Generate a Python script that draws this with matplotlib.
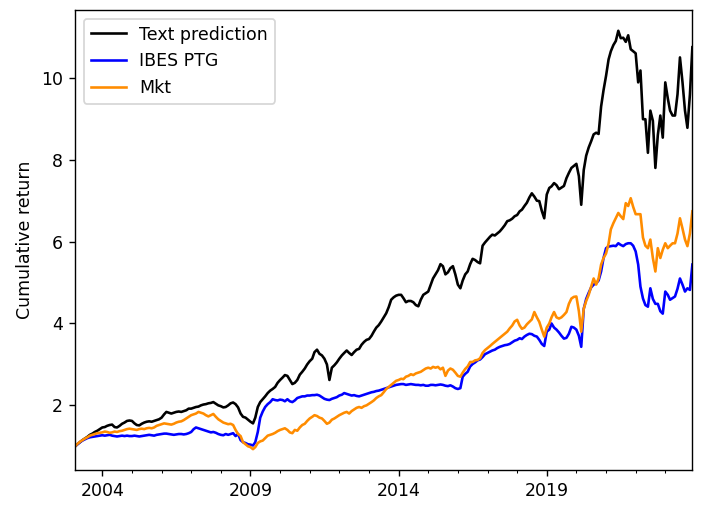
import numpy as np
import pandas as pd
import matplotlib
matplotlib.use('Agg')
import matplotlib.pyplot as plt
import matplotlib.dates as mdates

# monthly dates, Feb 2003 - Dec 2023
dates = pd.date_range('2003-02-01', '2023-12-01', freq='MS')

# cumulative returns, one row per year (2003 starts in Feb)
text_pred = [
    1.00, 1.05, 1.10, 1.15, 1.19, 1.23, 1.28, 1.31, 1.35, 1.38, 1.42,
    1.46, 1.47, 1.50, 1.52, 1.53, 1.47, 1.46, 1.50, 1.55, 1.58, 1.62, 1.63,
    1.62, 1.56, 1.52, 1.51, 1.55, 1.58, 1.60, 1.61, 1.60, 1.62, 1.64, 1.66,
    1.70, 1.78, 1.84, 1.82, 1.80, 1.82, 1.84, 1.85, 1.84, 1.86, 1.88, 1.92,
    1.92, 1.94, 1.96, 1.97, 2.00, 2.02, 2.03, 2.05, 2.06, 2.08, 2.04, 2.00,
    1.98, 1.95, 1.96, 2.00, 2.05, 2.07, 2.03, 1.95, 1.80, 1.72, 1.70, 1.65,
    1.60, 1.56, 1.70, 1.96, 2.08, 2.15, 2.22, 2.30, 2.36, 2.40, 2.45, 2.55,
    2.62, 2.68, 2.74, 2.72, 2.62, 2.52, 2.55, 2.62, 2.75, 2.82, 2.90, 3.00,
    3.08, 3.14, 3.30, 3.36, 3.26, 3.22, 3.14, 3.00, 2.62, 2.92, 2.98, 3.05,
    3.14, 3.22, 3.28, 3.34, 3.28, 3.23, 3.30, 3.36, 3.38, 3.48, 3.55, 3.60,
    3.62, 3.70, 3.80, 3.90, 3.96, 4.05, 4.15, 4.25, 4.40, 4.58, 4.64, 4.68,
    4.70, 4.70, 4.62, 4.52, 4.55, 4.55, 4.52, 4.45, 4.42, 4.58, 4.70, 4.74,
    4.78, 4.95, 5.10, 5.20, 5.30, 5.45, 5.40, 5.20, 5.25, 5.35, 5.40, 5.20,
    4.95, 4.86, 5.05, 5.20, 5.27, 5.45, 5.58, 5.55, 5.50, 5.47, 5.90, 5.98,
    6.05, 6.12, 6.17, 6.15, 6.20, 6.25, 6.32, 6.40, 6.50, 6.52, 6.56, 6.62,
    6.65, 6.74, 6.78, 6.87, 6.95, 7.08, 7.18, 7.10, 7.00, 6.99, 6.75, 6.57,
    7.15, 7.31, 7.35, 7.43, 7.38, 7.28, 7.32, 7.36, 7.55, 7.68, 7.80, 7.85,
    7.90, 7.60, 6.90, 7.75, 8.10, 8.30, 8.45, 8.62, 8.66, 8.63, 9.30, 9.70,
    10.05, 10.45, 10.65, 10.80, 10.90, 11.15, 10.97, 10.98, 10.88, 11.04, 10.70, 10.65,
    10.60, 9.89, 10.18, 8.99, 8.99, 8.17, 9.20, 8.95, 7.80, 8.60, 9.08, 8.54,
    9.89, 9.50, 9.20, 9.08, 9.08, 9.60, 10.50, 9.90, 9.20, 8.78, 9.60, 10.75,
]

ibes_ptg = [
    1.00, 1.05, 1.10, 1.14, 1.17, 1.20, 1.22, 1.23, 1.24, 1.25, 1.26,
    1.27, 1.26, 1.27, 1.28, 1.26, 1.25, 1.24, 1.25, 1.26, 1.25, 1.26, 1.25,
    1.25, 1.26, 1.25, 1.24, 1.25, 1.26, 1.27, 1.28, 1.27, 1.26, 1.28, 1.29,
    1.30, 1.31, 1.31, 1.30, 1.29, 1.28, 1.29, 1.30, 1.30, 1.29, 1.30, 1.32,
    1.35, 1.42, 1.46, 1.44, 1.42, 1.40, 1.38, 1.36, 1.34, 1.35, 1.33, 1.30,
    1.28, 1.27, 1.30, 1.28, 1.30, 1.32, 1.25, 1.30, 1.15, 1.10, 1.08, 1.05,
    1.04, 1.02, 1.10, 1.35, 1.70, 1.85, 1.96, 2.03, 2.08, 2.15, 2.13, 2.12,
    2.14, 2.13, 2.10, 2.15, 2.10, 2.08, 2.12, 2.18, 2.20, 2.22, 2.22, 2.24,
    2.24, 2.25, 2.25, 2.26, 2.24, 2.20, 2.16, 2.14, 2.13, 2.16, 2.18, 2.20,
    2.24, 2.26, 2.30, 2.28, 2.26, 2.24, 2.25, 2.23, 2.22, 2.24, 2.26, 2.28,
    2.30, 2.32, 2.33, 2.35, 2.36, 2.38, 2.40, 2.42, 2.44, 2.46, 2.48, 2.50,
    2.51, 2.52, 2.52, 2.50, 2.51, 2.52, 2.51, 2.50, 2.50, 2.49, 2.50, 2.48,
    2.48, 2.50, 2.50, 2.49, 2.50, 2.51, 2.50, 2.48, 2.47, 2.49, 2.46, 2.42,
    2.40, 2.42, 2.70, 2.77, 2.82, 2.95, 3.01, 3.05, 3.10, 3.12, 3.18, 3.25,
    3.28, 3.31, 3.34, 3.36, 3.40, 3.43, 3.45, 3.47, 3.48, 3.50, 3.54, 3.58,
    3.60, 3.64, 3.62, 3.68, 3.72, 3.75, 3.74, 3.70, 3.68, 3.60, 3.50, 3.45,
    3.80, 3.85, 4.00, 3.90, 3.85, 3.78, 3.70, 3.63, 3.65, 3.75, 3.92, 3.90,
    3.85, 3.70, 3.43, 4.36, 4.60, 4.75, 4.88, 4.95, 4.98, 5.05, 5.27, 5.60,
    5.84, 5.88, 5.89, 5.90, 5.89, 5.96, 5.92, 5.89, 5.94, 5.96, 5.96, 5.90,
    5.76, 5.44, 4.90, 4.61, 4.45, 4.41, 4.86, 4.60, 4.48, 4.48, 4.30, 4.24,
    4.78, 4.70, 4.58, 4.62, 4.66, 4.85, 5.10, 4.95, 4.78, 4.86, 4.82, 5.44,
]

mkt = [
    1.00, 1.06, 1.11, 1.15, 1.19, 1.22, 1.26, 1.28, 1.30, 1.32, 1.33,
    1.34, 1.36, 1.35, 1.33, 1.34, 1.36, 1.35, 1.37, 1.38, 1.40, 1.42, 1.43,
    1.42, 1.41, 1.40, 1.42, 1.43, 1.42, 1.44, 1.45, 1.44, 1.46, 1.50, 1.52,
    1.54, 1.56, 1.55, 1.54, 1.53, 1.55, 1.58, 1.60, 1.61, 1.64, 1.68, 1.72,
    1.76, 1.78, 1.80, 1.84, 1.82, 1.80, 1.76, 1.73, 1.76, 1.79, 1.72, 1.66,
    1.62, 1.58, 1.56, 1.54, 1.55, 1.52, 1.40, 1.30, 1.25, 1.10, 1.05, 1.00,
    0.98, 0.93, 0.98, 1.08, 1.12, 1.14, 1.20, 1.26, 1.28, 1.30, 1.33, 1.37,
    1.40, 1.42, 1.44, 1.40, 1.34, 1.32, 1.40, 1.38, 1.46, 1.52, 1.55, 1.62,
    1.68, 1.72, 1.76, 1.74, 1.70, 1.68, 1.62, 1.55, 1.58, 1.65, 1.68, 1.72,
    1.76, 1.79, 1.82, 1.84, 1.80, 1.86, 1.90, 1.94, 1.96, 1.94, 1.98, 2.00,
    2.04, 2.08, 2.12, 2.18, 2.22, 2.25, 2.32, 2.40, 2.45, 2.50, 2.55, 2.60,
    2.62, 2.65, 2.64, 2.70, 2.72, 2.76, 2.74, 2.78, 2.80, 2.82, 2.86, 2.90,
    2.92, 2.90, 2.94, 2.92, 2.94, 2.88, 2.92, 2.72, 2.85, 2.90, 2.87, 2.80,
    2.72, 2.70, 2.80, 2.89, 2.95, 3.06, 3.06, 3.10, 3.11, 3.15, 3.28, 3.35,
    3.40, 3.45, 3.50, 3.55, 3.60, 3.65, 3.70, 3.75, 3.80, 3.88, 3.95, 4.05,
    4.09, 3.95, 3.87, 3.90, 3.98, 4.04, 4.10, 4.28, 4.15, 4.04, 3.85, 3.68,
    3.90, 4.00, 4.15, 4.28, 4.15, 4.12, 4.15, 4.21, 4.28, 4.48, 4.61, 4.65,
    4.66, 4.30, 3.80, 4.36, 4.55, 4.70, 4.90, 5.10, 4.95, 5.10, 5.44, 5.60,
    5.71, 5.95, 6.30, 6.45, 6.57, 6.70, 6.62, 6.55, 6.94, 6.87, 7.06, 6.85,
    6.67, 6.67, 6.67, 6.10, 5.90, 5.84, 6.05, 5.60, 5.27, 5.84, 5.60, 5.80,
    5.96, 5.84, 5.90, 5.96, 5.96, 6.20, 6.57, 6.32, 6.05, 5.89, 6.20, 6.74,
]

major_years = [2004, 2009, 2014, 2019]
minor_years = list(range(2004, 2024))

# rendered at 125 dpi so text and lines come out at the reference's scale
fig = plt.figure(figsize=(716 / 125, 520 / 125), dpi=125)
ax = fig.add_axes([0.105, 0.096, 0.862, 0.885])

ax.plot(dates, text_pred, color='black', label='Text prediction')
ax.plot(dates, ibes_ptg, color='blue', label='IBES PTG')
ax.plot(dates, mkt, color='darkorange', label='Mkt')

ax.set_xlim(dates[0], dates[-1])
ax.set_xticks([pd.Timestamp(f'{y}-01-01') for y in major_years])
ax.set_xticks([pd.Timestamp(f'{y}-01-01') for y in minor_years if y not in major_years], minor=True)
ax.xaxis.set_major_formatter(mdates.DateFormatter('%Y'))
ax.set_ylabel('Cumulative return')
ax.legend(loc='upper left')

fig.savefig('out.png', dpi=125)
